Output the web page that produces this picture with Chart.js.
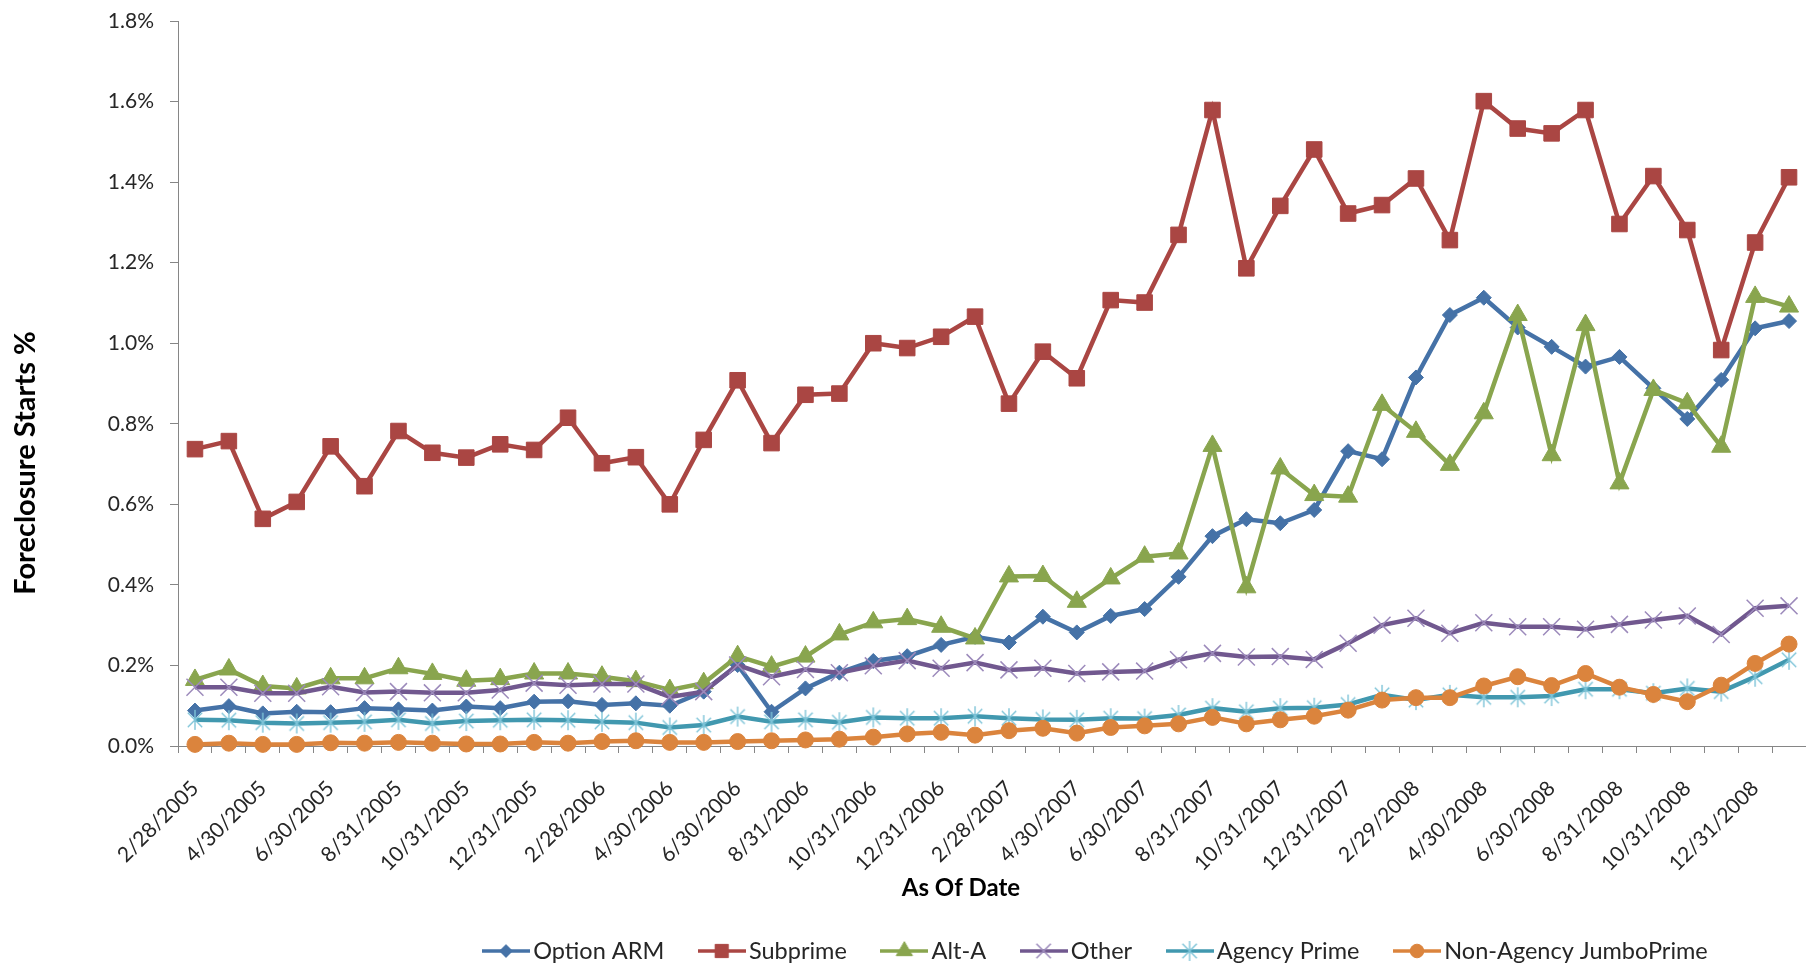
<!DOCTYPE html>
<html>
<head>
<meta charset="utf-8">
<title>Foreclosure Starts %</title>
<script src="https://cdn.jsdelivr.net/npm/chart.js@4.4.1/dist/chart.umd.min.js"></script>
<style>
  html, body { margin: 0; padding: 0; background: #ffffff; overflow: hidden; }
  #chart { display: block; width: 1806px; height: 963px; }
</style>
</head>
<body>
<canvas id="chart" width="1806" height="963"></canvas>
<script>
// Month-end reporting dates (category axis)
const asOfDates = [
  '2/28/2005', '3/31/2005', '4/30/2005', '5/31/2005', '6/30/2005', '7/31/2005', '8/31/2005', '9/30/2005', '10/31/2005', '11/30/2005', '12/31/2005',
  '1/31/2006', '2/28/2006', '3/31/2006', '4/30/2006', '5/31/2006', '6/30/2006', '7/31/2006', '8/31/2006', '9/30/2006', '10/31/2006', '11/30/2006', '12/31/2006',
  '1/31/2007', '2/28/2007', '3/31/2007', '4/30/2007', '5/31/2007', '6/30/2007', '7/31/2007', '8/31/2007', '9/30/2007', '10/31/2007', '11/30/2007', '12/31/2007',
  '1/31/2008', '2/29/2008', '3/31/2008', '4/30/2008', '5/31/2008', '6/30/2008', '7/31/2008', '8/31/2008', '9/30/2008', '10/31/2008', '11/30/2008', '12/31/2008',
  '1/31/2009'
];

// Foreclosure starts, percent of loans
const optionArm = [
  0.088, 0.099, 0.081, 0.085, 0.084, 0.094, 0.091, 0.088, 0.098, 0.094,
  0.110, 0.111, 0.102, 0.106, 0.100, 0.135, 0.201, 0.085, 0.143, 0.182,
  0.211, 0.223, 0.251, 0.271, 0.257, 0.321, 0.282, 0.323, 0.340, 0.420,
  0.521, 0.563, 0.553, 0.586, 0.732, 0.712, 0.915, 1.070, 1.113, 1.039,
  0.991, 0.942, 0.966, 0.888, 0.812, 0.909, 1.037, 1.055
];
const subprime = [
  0.737, 0.757, 0.564, 0.606, 0.744, 0.645, 0.782, 0.728, 0.716, 0.749,
  0.735, 0.815, 0.702, 0.717, 0.600, 0.760, 0.908, 0.752, 0.872, 0.875,
  1.000, 0.988, 1.016, 1.066, 0.850, 0.979, 0.913, 1.107, 1.101, 1.269,
  1.579, 1.186, 1.341, 1.481, 1.322, 1.343, 1.409, 1.256, 1.601, 1.533,
  1.521, 1.579, 1.296, 1.415, 1.281, 0.983, 1.250, 1.412
];
const altA = [
  0.164, 0.190, 0.149, 0.143, 0.168, 0.168, 0.193, 0.179, 0.162, 0.166,
  0.180, 0.180, 0.172, 0.161, 0.139, 0.156, 0.223, 0.197, 0.222, 0.277,
  0.307, 0.315, 0.296, 0.267, 0.421, 0.422, 0.358, 0.416, 0.470, 0.478,
  0.745, 0.394, 0.689, 0.623, 0.619, 0.847, 0.780, 0.698, 0.826, 1.070,
  0.722, 1.045, 0.652, 0.884, 0.851, 0.743, 1.115, 1.091
];
const other = [
  0.146, 0.146, 0.131, 0.131, 0.147, 0.133, 0.135, 0.132, 0.132, 0.139,
  0.156, 0.151, 0.154, 0.154, 0.122, 0.135, 0.201, 0.172, 0.190, 0.182,
  0.199, 0.212, 0.193, 0.207, 0.189, 0.193, 0.180, 0.184, 0.186, 0.214,
  0.230, 0.221, 0.222, 0.215, 0.255, 0.300, 0.317, 0.280, 0.306, 0.296,
  0.296, 0.290, 0.302, 0.313, 0.323, 0.277, 0.342, 0.348
];
const agencyPrime = [
  0.065, 0.064, 0.058, 0.056, 0.058, 0.060, 0.065, 0.056, 0.062, 0.064,
  0.065, 0.064, 0.060, 0.058, 0.046, 0.052, 0.073, 0.060, 0.065, 0.059,
  0.071, 0.069, 0.069, 0.074, 0.069, 0.066, 0.065, 0.069, 0.068, 0.077,
  0.094, 0.085, 0.094, 0.095, 0.103, 0.127, 0.114, 0.127, 0.121, 0.121,
  0.124, 0.141, 0.141, 0.131, 0.143, 0.135, 0.172, 0.214
];
const nonAgencyJumboPrime = [
  0.004, 0.007, 0.004, 0.004, 0.008, 0.007, 0.009, 0.007, 0.005, 0.005,
  0.009, 0.007, 0.011, 0.013, 0.009, 0.009, 0.011, 0.013, 0.015, 0.017,
  0.022, 0.030, 0.034, 0.027, 0.038, 0.044, 0.032, 0.046, 0.050, 0.055,
  0.071, 0.055, 0.065, 0.074, 0.089, 0.114, 0.120, 0.120, 0.149, 0.172,
  0.150, 0.180, 0.146, 0.128, 0.110, 0.151, 0.205, 0.253
];

const seriesNames = ['Option ARM', 'Subprime', 'Alt-A', 'Other', 'Agency Prime', 'Non-Agency JumboPrime'];
const yMin = 0, yMax = 1.8, yStep = 0.2;
const yTitle = 'Foreclosure Starts %';
const xTitle = 'As Of Date';

// Layout constants (pixels)
const W = 1806, H = 963;
const PLOT_TOP = 21, PLOT_LEFT = 178, PLOT_BOTTOM = 746;
const FONT_FAMILY = "Lato, 'Open Sans', 'DejaVu Sans', sans-serif";
const TEXT_COLOR = '#262626';
const AXIS_COLOR = '#868686';
const TICK_FONT = 21;
const LEGEND_FONT = 23.5, LEGEND_GAP = 42;
const SYMBOL_W = 48, SYMBOL_H = 26, SYMBOL_BOX = 31;
const LEGEND_X = 482, LEGEND_Y = 951;
const LEGEND_H = LEGEND_FONT + LEGEND_GAP + 10;

// Six-armed asterisk marker
function asteriskMarker(color, size) {
  const c = document.createElement('canvas');
  c.width = size; c.height = size;
  const g = c.getContext('2d');
  const m = size / 2, a = size / 2 - 1, d = a * 0.72;
  g.strokeStyle = color;
  g.lineWidth = 1.4;
  g.beginPath();
  g.moveTo(m, m - a); g.lineTo(m, m + a);
  g.moveTo(m - d, m - d); g.lineTo(m + d, m + d);
  g.moveTo(m + d, m - d); g.lineTo(m - d, m + d);
  g.stroke();
  return c;
}

function makeSeries(label, data, color, pointStyle, radius, pointFill, pointBorder, pointBorderWidth) {
  return {
    label, data,
    borderColor: color,
    backgroundColor: color,
    borderWidth: 4.5,
    tension: 0,
    fill: false,
    clip: false,
    pointStyle,
    pointRadius: radius,
    pointHoverRadius: radius,
    pointBackgroundColor: pointFill,
    pointBorderColor: pointBorder,
    pointBorderWidth
  };
}

const datasets = [
  makeSeries(seriesNames[0], optionArm, '#4572A7', 'rectRot', 7.5, '#4572A7', '#4572A7', 1),
  makeSeries(seriesNames[1], subprime, '#AA4643', 'rect', 11, '#AA4643', '#AA4643', 1),
  makeSeries(seriesNames[2], altA, '#89A54E', 'triangle', 11, '#89A54E', '#89A54E', 1),
  makeSeries(seriesNames[3], other, '#71588F', 'crossRot', 12, '#9C8ABB', '#9C8ABB', 1.5),
  makeSeries(seriesNames[4], agencyPrime, '#4198AF', asteriskMarker('#7EC4D8', 22), 11, '#7EC4D8', '#7EC4D8', 1.4),
  makeSeries(seriesNames[5], nonAgencyJumboPrime, '#DB843D', 'circle', 8, '#DB843D', '#DB843D', 1)
];
// First series at the bottom of the stack, last series on top
datasets.forEach((ds, i) => { ds.order = datasets.length - i; });

// Legend sample: a short line segment with the series marker in the middle
function legendSymbol(ds) {
  const c = document.createElement('canvas');
  c.width = SYMBOL_W; c.height = SYMBOL_H;
  const g = c.getContext('2d');
  const cy = SYMBOL_H / 2;
  g.strokeStyle = ds.borderColor;
  g.lineWidth = 3.5;
  g.beginPath(); g.moveTo(0, cy); g.lineTo(SYMBOL_W, cy); g.stroke();
  g.fillStyle = ds.pointBackgroundColor;
  g.strokeStyle = ds.pointBorderColor;
  g.lineWidth = ds.pointBorderWidth;
  Chart.helpers.drawPoint(g, {
    pointStyle: ds.pointStyle, rotation: 0,
    radius: ds.pointRadius * 0.85, borderWidth: ds.pointBorderWidth
  }, SYMBOL_W / 2, cy);
  return c;
}

// Places the legend row and draws the rotated / centred axis titles
const chartDecor = {
  id: 'chartDecor',
  afterLayout(chart) {
    const lg = chart.legend;
    if (!lg || !lg.lineWidths) return;
    const pad = lg.options.labels.padding;
    const xStart = (lg.left + pad + lg.right - lg.lineWidths[0]) / 2;
    const dx = LEGEND_X - (xStart + SYMBOL_BOX / 2 - SYMBOL_W / 2);
    lg.left += dx; lg.right += dx;
    const dy = LEGEND_Y - (lg.top + pad + LEGEND_FONT / 2);
    lg.top += dy; lg.bottom += dy;
  },
  afterDraw(chart) {
    const ctx = chart.ctx;
    ctx.save();
    ctx.fillStyle = '#000000';
    ctx.textAlign = 'center';
    ctx.textBaseline = 'middle';
    ctx.font = 'bold 29px ' + FONT_FAMILY;
    ctx.translate(26, 463);
    ctx.rotate(-Math.PI / 2);
    ctx.fillText(yTitle, 0, 0);
    ctx.restore();
    ctx.save();
    ctx.fillStyle = '#000000';
    ctx.textAlign = 'center';
    ctx.textBaseline = 'middle';
    ctx.font = 'bold 24px ' + FONT_FAMILY;
    ctx.fillText(xTitle, 961, 888);
    ctx.restore();
  }
};

function draw() {
  const legendSymbols = datasets.map(legendSymbol);
  new Chart(document.getElementById('chart'), {
    type: 'line',
    data: { labels: asOfDates, datasets },
    options: {
      responsive: false,
      animation: false,
      devicePixelRatio: 1,
      events: [],
      layout: { autoPadding: false, padding: { top: PLOT_TOP, left: 0, right: 0, bottom: 0 } },
      plugins: {
        tooltip: { enabled: false },
        title: { display: false },
        legend: {
          position: 'bottom',
          align: 'center',
          labels: {
            usePointStyle: true,
            pointStyleWidth: SYMBOL_BOX,
            padding: LEGEND_GAP,
            color: TEXT_COLOR,
            font: { family: FONT_FAMILY, size: LEGEND_FONT },
            generateLabels: (chart) => chart.data.datasets.map((ds, i) => ({
              text: ds.label,
              datasetIndex: i,
              pointStyle: legendSymbols[i],
              fillStyle: ds.borderColor,
              strokeStyle: ds.borderColor,
              lineWidth: 0,
              hidden: false,
              fontColor: TEXT_COLOR
            }))
          }
        }
      },
      scales: {
        x: {
          type: 'category',
          offset: true,
          grid: { offset: true, drawOnChartArea: false, drawTicks: true, tickLength: 7, color: AXIS_COLOR, lineWidth: 1 },
          border: { display: true, color: AXIS_COLOR, width: 1 },
          title: { display: false },
          ticks: {
            autoSkip: false,
            minRotation: 45,
            maxRotation: 45,
            padding: 23,
            color: TEXT_COLOR,
            font: { family: FONT_FAMILY, size: TICK_FONT },
            callback: function (value, index) {
              return index % 2 === 0 ? this.getLabelForValue(value) : '';
            }
          },
          afterFit(scale) {
            scale.height = H - PLOT_BOTTOM - LEGEND_H;
            // the axis runs to the right edge of the canvas
            scale.paddingRight = 0;
          }
        },
        y: {
          min: yMin,
          max: yMax,
          grid: { drawOnChartArea: false, drawTicks: true, tickLength: 8, color: AXIS_COLOR, lineWidth: 1 },
          border: { display: true, color: AXIS_COLOR, width: 1 },
          title: { display: false },
          ticks: {
            stepSize: yStep,
            padding: 16,
            color: TEXT_COLOR,
            font: { family: FONT_FAMILY, size: TICK_FONT },
            callback: (v) => Number(v).toFixed(1) + '%'
          },
          afterFit(scale) {
            scale.width = PLOT_LEFT;
            scale.paddingTop = 0;
            scale.paddingBottom = 0;
          }
        }
      }
    },
    plugins: [chartDecor]
  });
}

const fontLoads = [
  document.fonts.load(TICK_FONT + 'px Lato'),
  document.fonts.load('bold 29px Lato')
];
Promise.all(fontLoads).then(draw, draw);
</script>
</body>
</html>
